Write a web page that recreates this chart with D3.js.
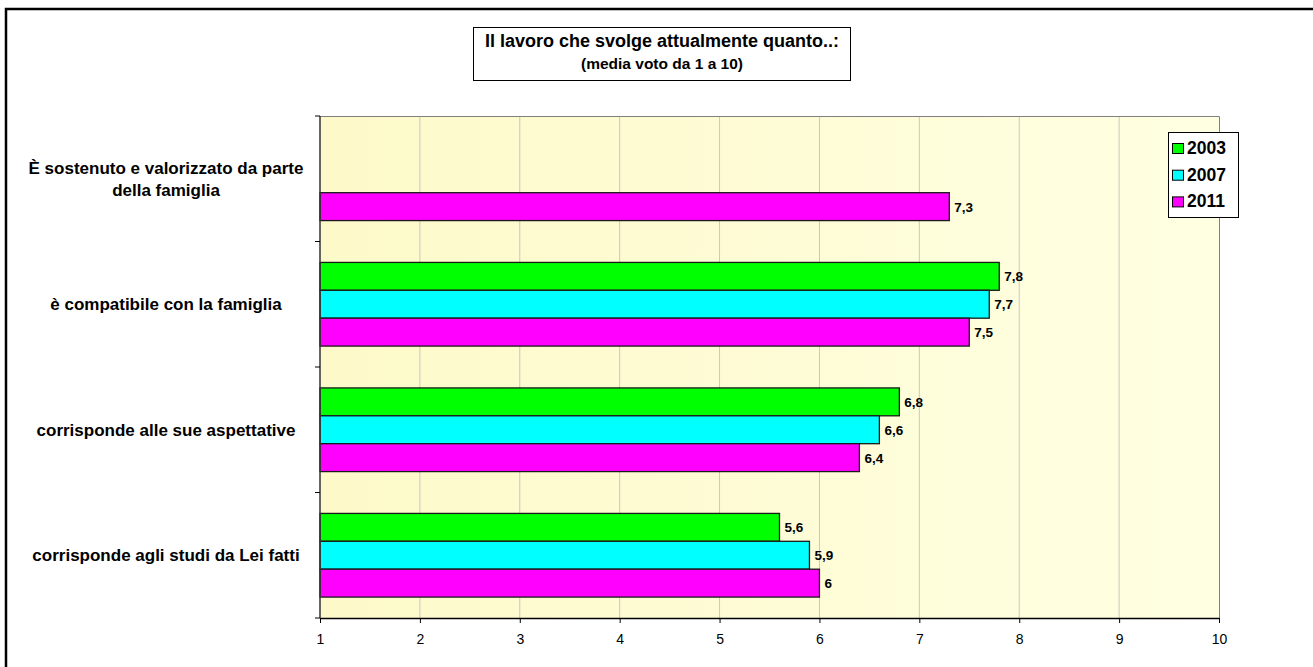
<!DOCTYPE html>
<html>
<head>
<meta charset="utf-8">
<script src="https://cdn.jsdelivr.net/npm/d3@7"></script>
<style>
  html, body { margin: 0; padding: 0; background: #fff; }
  svg { display: block; font-family: "Liberation Sans", Arial, sans-serif; }
</style>
</head>
<body>
<svg id="chart" width="1313" height="667"></svg>
<script>
// Survey categories, top to bottom
const categories = [
  ["È sostenuto e valorizzato da parte", "della famiglia"],
  ["è compatibile con la famiglia"],
  ["corrisponde alle sue aspettative"],
  ["corrisponde agli studi da Lei fatti"]
];
const years = ["2003", "2007", "2011"];
const colors = ["#00ff00", "#00ffff", "#ff00ff"];
// Mean score per category (null = not asked that year)
const values2003 = [null, 7.8, 6.8, 5.6];
const values2007 = [null, 7.7, 6.6, 5.9];
const values2011 = [7.3, 7.5, 6.4, 6.0];
const seriesValues = [values2003, values2007, values2011];
const xTicks = [1, 2, 3, 4, 5, 6, 7, 8, 9, 10];

const svg = d3.select("#chart");
const plot = { left: 320, right: 1219, top: 116, bottom: 618 };

// Outer frame (only left and top edges fall inside the page)
svg.append("rect")
  .attr("x", 6).attr("y", 9).attr("width", 1320).attr("height", 680)
  .attr("fill", "none").attr("stroke", "#000").attr("stroke-width", 2.5);

const defs = svg.append("defs");
const grad = defs.append("linearGradient").attr("id", "bg")
  .attr("x1", "0%").attr("x2", "100%").attr("y1", "0%").attr("y2", "0%");
grad.append("stop").attr("offset", "0%").attr("stop-color", "#fdf9c9");
grad.append("stop").attr("offset", "100%").attr("stop-color", "#ffffe2");

const x = d3.scaleLinear().domain([1, 10]).range([plot.left, plot.right]);
const y = d3.scaleBand().domain(d3.range(categories.length))
  .range([plot.top, plot.bottom]).paddingInner(1.5 / 4.5).paddingOuter(0.75 / 4.5);
const bandFull = d3.scaleBand().domain(d3.range(categories.length))
  .range([plot.top, plot.bottom]);
const ySub = d3.scaleBand().domain(d3.range(years.length)).range([0, y.bandwidth()]);

// Plot background
svg.append("rect")
  .attr("x", plot.left).attr("y", plot.top)
  .attr("width", plot.right - plot.left).attr("height", plot.bottom - plot.top)
  .attr("fill", "url(#bg)");

// Vertical grid lines
svg.append("g").selectAll("line").data(xTicks.slice(1, -1)).join("line")
  .attr("x1", d => x(d)).attr("x2", d => x(d))
  .attr("y1", plot.top).attr("y2", plot.bottom)
  .attr("stroke", "#c8c8c0").attr("stroke-width", 1);

// Plot border (top and right)
svg.append("path")
  .attr("d", `M${plot.left},${plot.top + 0.5}H${plot.right + 0.5}V${plot.bottom}`)
  .attr("fill", "none").attr("stroke", "#808080").attr("stroke-width", 1);

// Bars
const bars = [];
seriesValues.forEach((vals, s) => {
  vals.forEach((v, c) => { if (v !== null) bars.push({ s, c, v }); });
});
svg.append("g").selectAll("rect").data(bars).join("rect")
  .attr("x", x(1))
  .attr("y", d => y(d.c) + ySub(d.s))
  .attr("width", d => x(d.v) - x(1))
  .attr("height", ySub.bandwidth())
  .attr("fill", d => colors[d.s])
  .attr("stroke", "#1a1a1a").attr("stroke-width", 1.3);

// Value labels
svg.append("g").selectAll("text").data(bars).join("text")
  .attr("x", d => x(d.v) + 5)
  .attr("y", d => y(d.c) + ySub(d.s) + ySub.bandwidth() / 2 + 5)
  .attr("font-size", 13.5).attr("font-weight", "bold").attr("fill", "#000")
  .text(d => String(d.v).replace(".", ","));

// X axis
const xAxis = svg.append("g").attr("transform", `translate(0,${plot.bottom})`)
  .call(d3.axisBottom(x).tickValues(xTicks).tickSize(5).tickSizeOuter(0).tickFormat(d3.format("d")));
xAxis.select(".domain").attr("stroke", "#000").attr("stroke-width", 1.3);
xAxis.selectAll(".tick line").attr("stroke", "#000");
xAxis.selectAll(".tick text").attr("font-size", 14).attr("fill", "#000")
  .attr("font-family", "Liberation Sans, Arial, sans-serif")
  .attr("y", 26).attr("dy", null);

// Y axis: line plus ticks between categories
svg.append("line")
  .attr("x1", plot.left).attr("x2", plot.left)
  .attr("y1", plot.top).attr("y2", plot.bottom)
  .attr("stroke", "#333").attr("stroke-width", 1.5);
const yTickPos = d3.range(categories.length + 1).map(i =>
  i < categories.length ? bandFull(i) : plot.bottom);
svg.append("g").selectAll("line").data(yTickPos).join("line")
  .attr("x1", plot.left - 5).attr("x2", plot.left)
  .attr("y1", d => d).attr("y2", d => d)
  .attr("stroke", "#000").attr("stroke-width", 1);

// Category labels
const catG = svg.append("g").selectAll("text").data(categories).join("text")
  .attr("text-anchor", "middle").attr("font-size", 17).attr("font-weight", "bold")
  .attr("fill", "#000");
catG.each(function (lines, i) {
  const cy = bandFull(i) + bandFull.bandwidth() / 2;
  const lh = 22;
  const y0 = cy - (lines.length - 1) * lh / 2 + 6;
  d3.select(this).selectAll("tspan").data(lines).join("tspan")
    .attr("x", 166).attr("y", (d, k) => y0 + k * lh)
    .text(d => d);
});

// Title box
svg.append("rect")
  .attr("x", 473.5).attr("y", 27.5).attr("width", 377).attr("height", 53)
  .attr("fill", "#fff").attr("stroke", "#000").attr("stroke-width", 1);
svg.append("text").attr("x", 662).attr("y", 47)
  .attr("text-anchor", "middle").attr("font-size", 18).attr("font-weight", "bold")
  .text("Il lavoro che svolge attualmente quanto..:");
svg.append("text").attr("x", 662).attr("y", 69)
  .attr("text-anchor", "middle").attr("font-size", 15.5).attr("font-weight", "bold")
  .text("(media voto da 1 a 10)");

// Legend
const legend = svg.append("g");
legend.append("rect")
  .attr("x", 1168.5).attr("y", 132.5).attr("width", 70).attr("height", 85)
  .attr("fill", "#fff").attr("stroke", "#000").attr("stroke-width", 1);
const li = legend.selectAll("g").data(years).join("g")
  .attr("transform", (d, i) => `translate(1172,${154 + i * 26.7})`);
li.append("rect").attr("x", 0.5).attr("y", -10.5).attr("width", 11).attr("height", 10)
  .attr("fill", (d, i) => colors[i]).attr("stroke", "#000").attr("stroke-width", 1);
li.append("text").attr("x", 15).attr("y", 0)
  .attr("font-size", 17.5).attr("font-weight", "bold").text(d => d);
</script>
</body>
</html>
